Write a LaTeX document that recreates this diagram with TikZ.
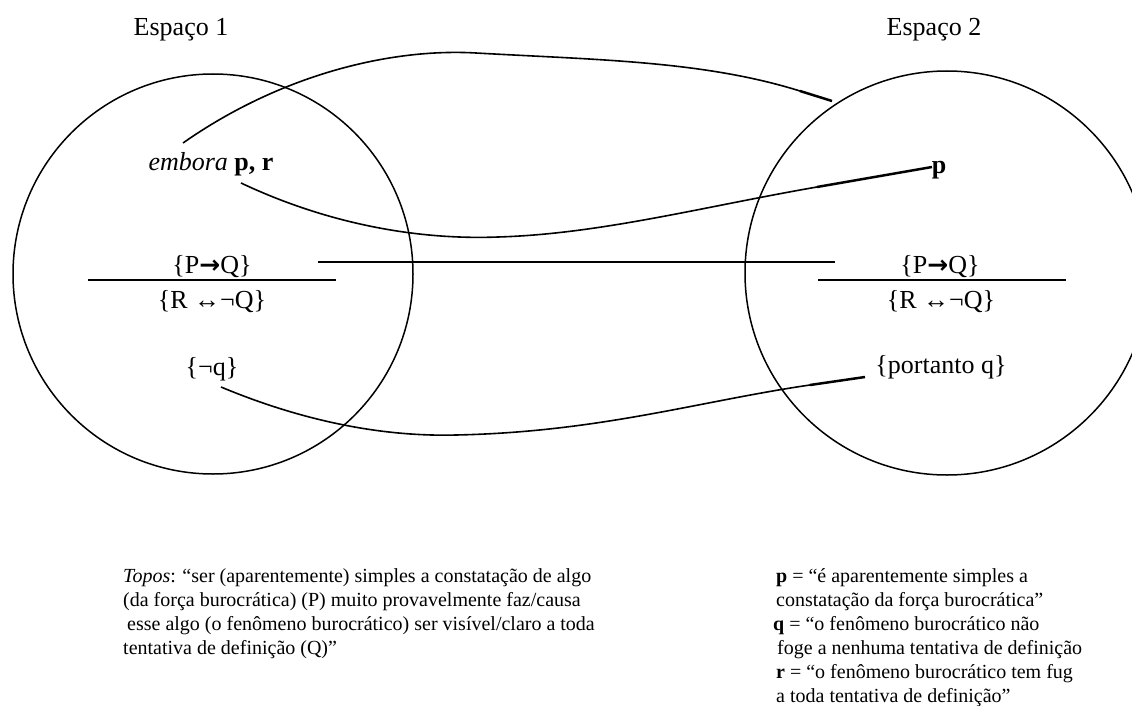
\documentclass[tikz,border=0pt]{standalone}
\usepackage{fontspec}
\setmainfont{Liberation Serif}
\newfontfamily\arrowfont{DejaVu Sans}
\newcommand{\barr}{{\arrowfont\bfseries\fontsize{25}{30}\selectfont →}}
\begin{document}
\begin{tikzpicture}[x=1pt,y=-1pt]
\tikzset{
  ring/.style={draw, circle, line width=1.5pt, inner sep=0pt},
  link/.style={line width=1.6pt},
  linkend/.style={line width=2.5pt},
  rule/.style={line width=1.7pt},
  big/.style={font=\fontsize{26}{30}\selectfont, inner sep=0pt, anchor=base},
  body/.style={font=\fontsize{20}{24}\selectfont, inner sep=0pt, anchor=base west},
}
\useasboundingbox (0,0) rectangle (1132,706);
\clip (0,0) rectangle (1132,706);

% spaces
\node[ring, minimum size=400pt] (S1) at (213,274) {};
\node[ring, minimum size=404pt] (S2) at (947,273) {};

\node[big] (T1) at (181,36) {Espaço 1};
\node[big] (T2) at (934,36) {Espaço 2};

% space 1 contents
\node[big] (emb) at (211,170) {\textit{embora} \textbf{p, r}};
\node[big] (pq1) at (212,273) {\{P\barr Q\}};
\node[big] (rq1) at (212,308) {\{R ↔¬Q\}};
\node[big] (nq)  at (212,375) {\{¬q\}};

% space 2 contents
\node[big] (p2)  at (939,173) {\textbf{p}};
\node[big] (pq2) at (940,273) {\{P\barr Q\}};
\node[big] (rq2) at (941,308) {\{R ↔¬Q\}};
\node[big] (pt)  at (941,373) {\{portanto q\}};

% fraction rules
\coordinate (f1a) at (88,280);  \coordinate (f1b) at (336,280);
\coordinate (f2a) at (818,280); \coordinate (f2b) at (1066,280);
\draw[rule] (f1a) -- (f1b);
\draw[rule] (f2a) -- (f2b);

% connector end points
\coordinate (a1) at (183,143);
\coordinate (a2) at (800,91);
\coordinate (a3) at (832,101);
\coordinate (b1) at (241,183);
\coordinate (b2) at (817,187);
\coordinate (b3) at (932,167);
\coordinate (c1) at (318,262);
\coordinate (c2) at (835,262);
\coordinate (d1) at (221,387);
\coordinate (d2) at (810,385);
\coordinate (d3) at (865,377);

% connectors
\draw[link] (a1) .. controls (280,75) and (390,48) .. (476,53)
                 .. controls (600,60) and (704,61) .. (a2);
\draw[linkend] (a2) -- (a3);
\draw[link] (b1) .. controls (330,225) and (420,240) .. (498,237)
                 .. controls (600,234) and (702,207) .. (b2);
\draw[linkend] (b2) -- (b3);
\draw[link] (c1) -- (c2);
\draw[link] (d1) .. controls (300,420) and (380,437) .. (456,435)
                 .. controls (600,432) and (700,401) .. (d2);
\draw[linkend] (d2) -- (d3);

% legend left
\node[body] (l1) at (123,582) {\textit{Topos}: “ser (aparentemente) simples a constatação de algo};
\node[body] (l2) at (123,606) {(da força burocrática) (P) muito provavelmente faz/causa};
\node[body] (l3) at (127,630) {esse algo (o fenômeno burocrático) ser visível/claro a toda};
\node[body] (l4) at (123,654) {tentativa de definição (Q)”};

% legend right
\node[body] (r1) at (776,582) {\textbf{p} = “é aparentemente simples a};
\node[body] (r2) at (776,606) {constatação da força burocrática”};
\node[body] (r3) at (773,630) {\textbf{q} = “o fenômeno burocrático não};
\node[body] (r4) at (777,654) {foge a nenhuma tentativa de definição};
\node[body] (r5) at (776,678) {\textbf{r} = “o fenômeno burocrático tem fug};
\node[body] (r6) at (776,702) {a toda tentativa de definição”};
\end{tikzpicture}
\end{document}
